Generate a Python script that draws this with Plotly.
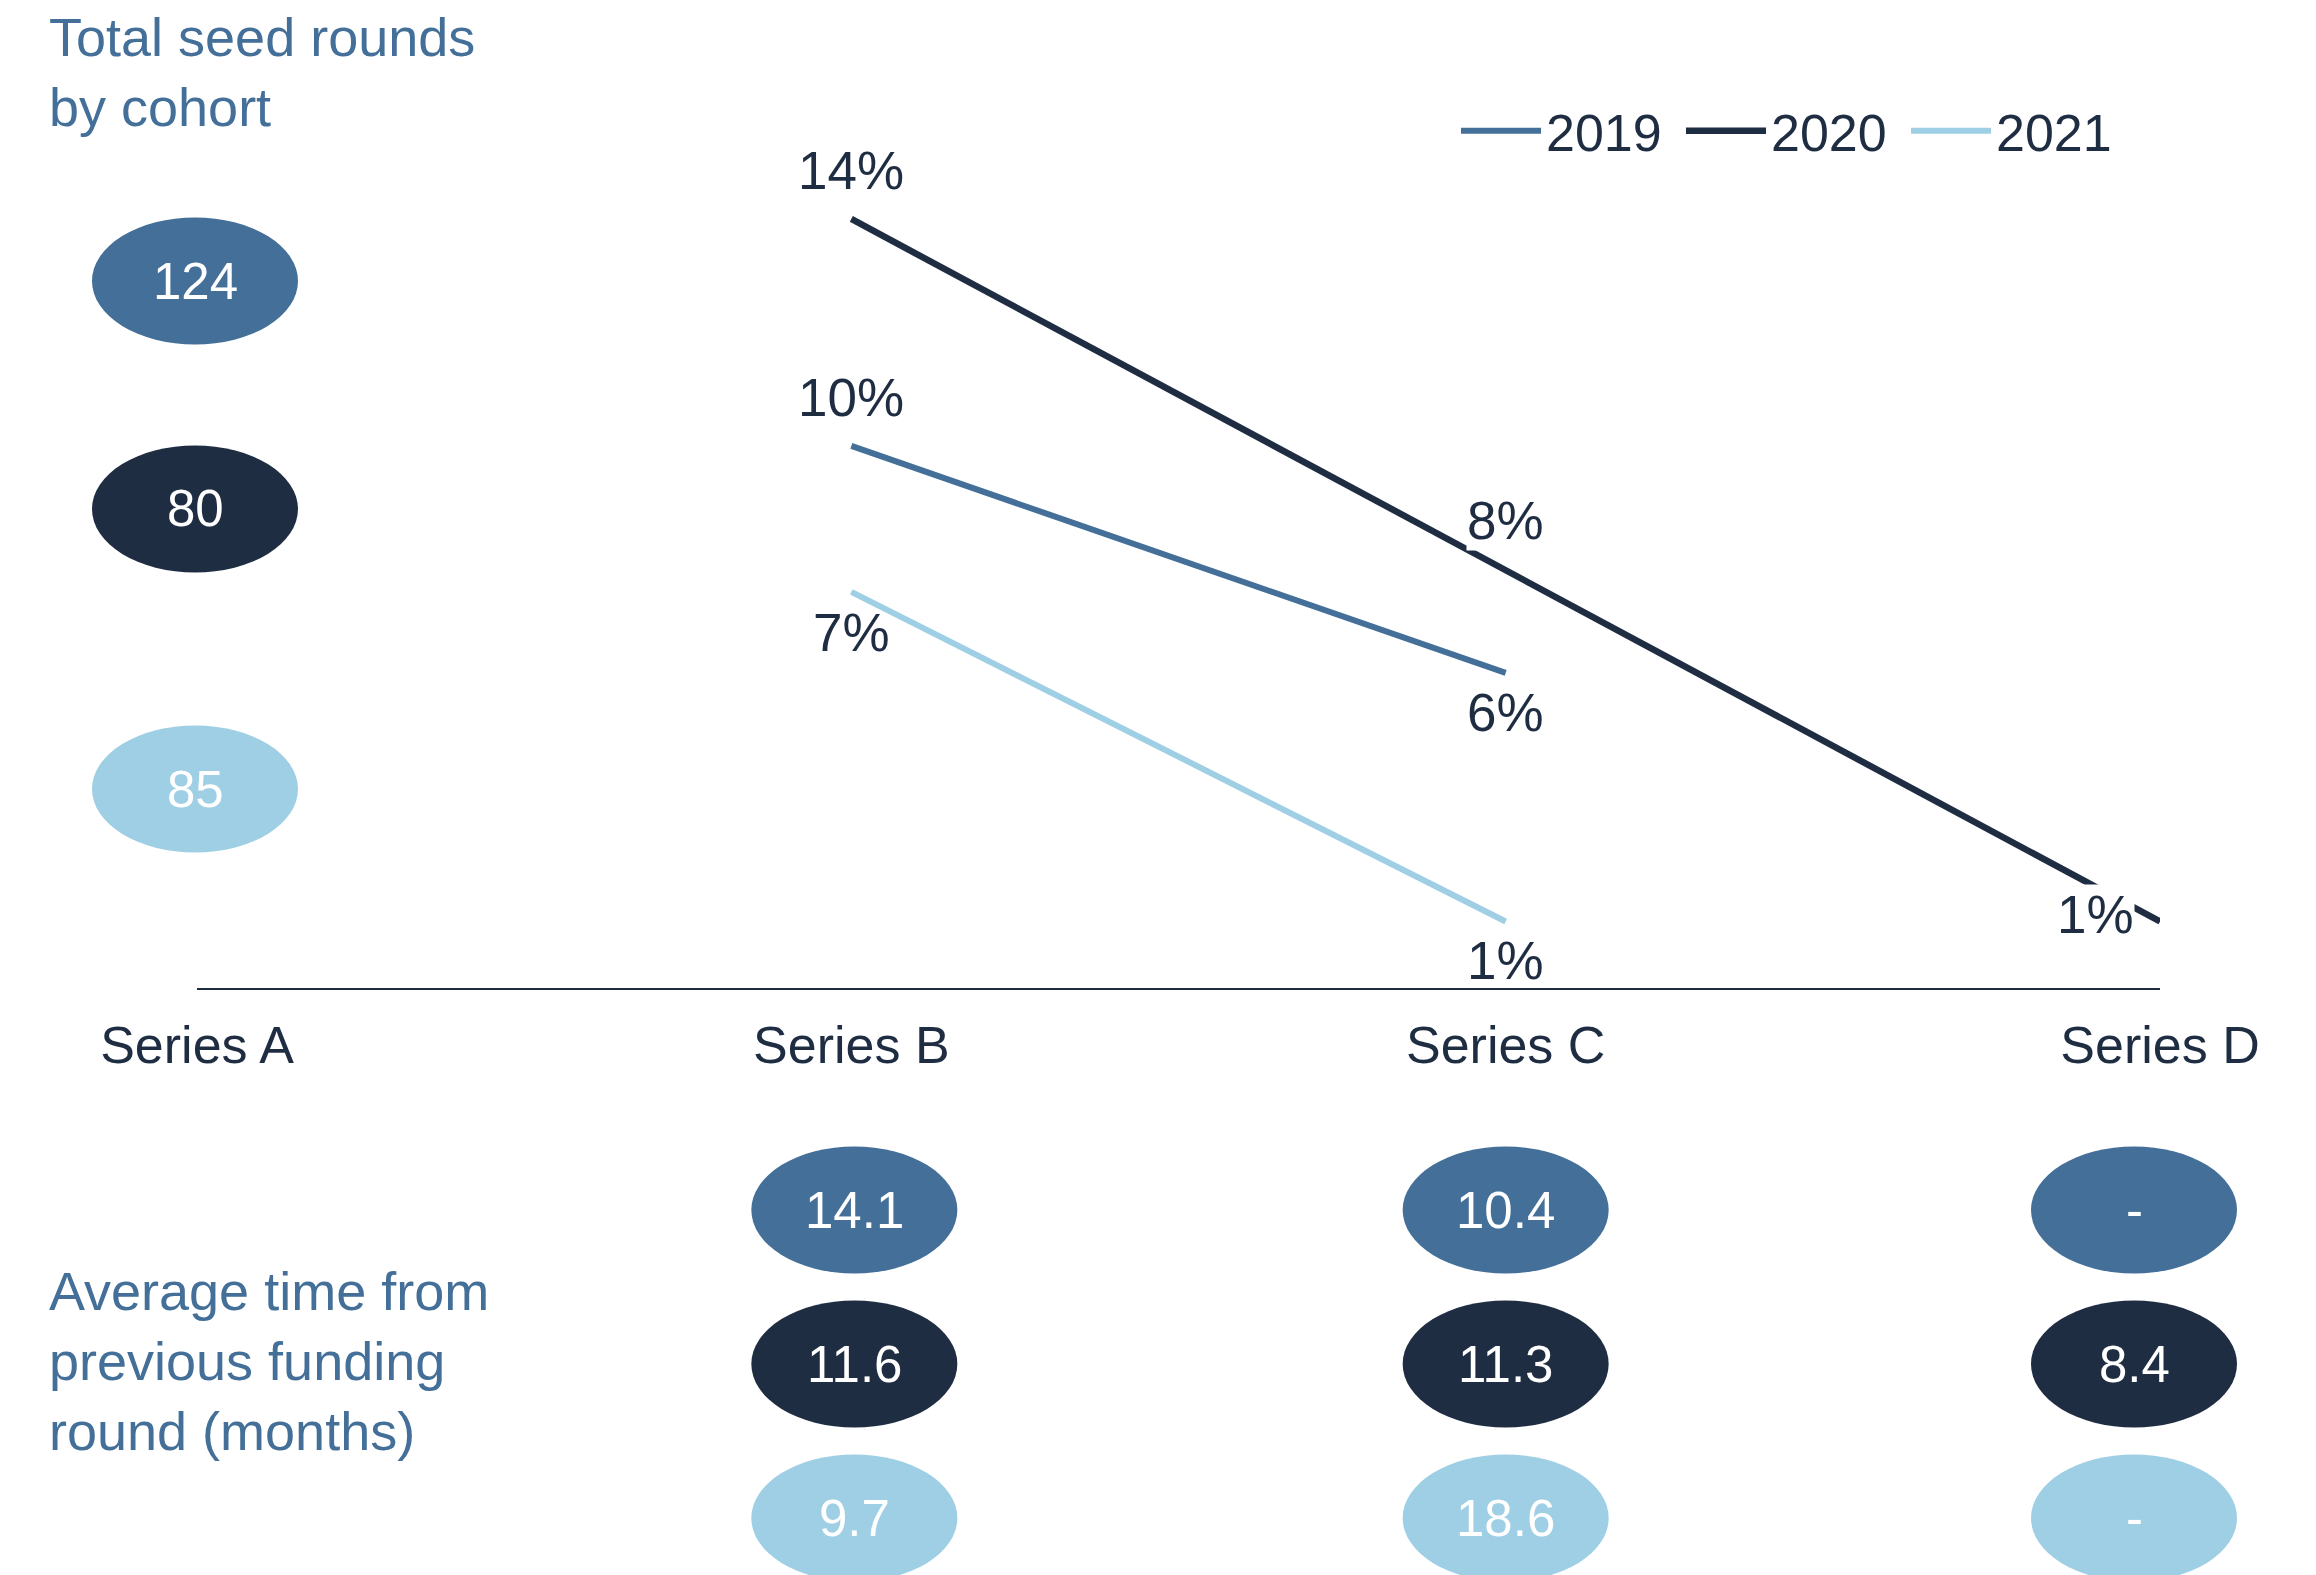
import plotly.graph_objects as go

# ---------------- data ----------------
categories = ["Series A", "Series B", "Series C", "Series D"]
cohorts = ["2019", "2020", "2021"]

share_2019 = [None, 9.8, 5.6, None]
share_2020 = [None, 14.0, 7.5, 1.0]
share_2021 = [None, 7.1, 1.0, None]

seed_rounds = [124, 80, 85]                 # 2019, 2020, 2021

month_columns = ["Series B", "Series C", "Series D"]
months_2019 = [14.1, 10.4, None]
months_2020 = [11.6, 11.3, 8.4]
months_2021 = [9.7, 18.6, None]

row_label_top = "Total seed rounds<br>by cohort"
row_label_bottom = "Average time from<br>previous funding<br>round (months)"

# ---------------- style ----------------
COLORS = {"2019": "#436F98", "2020": "#1F2D43", "2021": "#9FCFE4"}
TEXT_DARK = "#1F2D43"
FONT = "Liberation Sans, Arial, Helvetica, sans-serif"
W, H = 2316, 1575
L, R, T, B = 197, 2160, 150, 988


def px_x(px):
    return (px - L) / (R - L)


def px_y(py):
    return (B - py) / (B - T)


def cat_paper(cat):
    # paper position of a category on the x axis (range 0..len-1)
    return categories.index(cat) / (len(categories) - 1)


shares = {"2019": share_2019, "2020": share_2020, "2021": share_2021}
months = {"2019": months_2019, "2020": months_2020, "2021": months_2021}
widths = {"2019": 6, "2020": 6.5, "2021": 6}

fig = go.Figure()
for c in cohorts:
    fig.add_trace(go.Scatter(
        x=categories, y=shares[c], name=c, mode="lines",
        line=dict(color=COLORS[c], width=widths[c]), connectgaps=False,
        hoverinfo="skip",
    ))

annotations = []
shapes = []

# percentage labels (offsets in pixels)
label_offsets = {
    ("2019", 1): (0, 48), ("2019", 2): (0, -40),
    ("2020", 1): (0, 48), ("2020", 2): (0, 50), ("2020", 3): (-65, 7),
    ("2021", 1): (0, -41), ("2021", 2): (0, -39),
}
for c in cohorts:
    for i, v in enumerate(shares[c]):
        if v is None:
            continue
        dx, dy = label_offsets[(c, i)]
        annotations.append(dict(
            x=categories[i], y=v, xref="x", yref="y",
            xanchor="center", yanchor="middle",
            text=f"{v:.0f}%", showarrow=False,
            xshift=dx, yshift=dy,
            bgcolor="white" if c == "2020" else "rgba(0,0,0,0)", borderpad=0,
            font=dict(size=53, color=TEXT_DARK, family=FONT),
        ))

# ellipse helper
EW, EH = 206, 127


def ellipse(xcat, py, color, text, dx=0):
    xp = cat_paper(xcat)
    yp = px_y(py)
    shapes.append(dict(
        type="circle", xref="paper", yref="paper",
        xsizemode="pixel", ysizemode="pixel",
        xanchor=xp, yanchor=yp,
        x0=dx - EW / 2, x1=dx + EW / 2, y0=-EH / 2, y1=EH / 2,
        fillcolor=color, line=dict(width=0), layer="above",
    ))
    annotations.append(dict(
        x=xp, y=yp, xref="paper", yref="paper",
        xanchor="center", yanchor="middle", xshift=dx, yshift=0,
        text=text, showarrow=False,
        font=dict(size=51, color="white", family=FONT),
    ))


# top-left: seed rounds by cohort
top_rows_py = [281, 509, 789]
for c, n, py in zip(cohorts, seed_rounds, top_rows_py):
    ellipse(categories[0], py, COLORS[c], str(n), dx=-2)

# bottom: average months
bottom_rows_py = [1210, 1364, 1518]
col_dx = {"Series B": 3, "Series C": 0, "Series D": -26}
for c, py in zip(cohorts, bottom_rows_py):
    for col, v in zip(month_columns, months[c]):
        ellipse(col, py, COLORS[c], "-" if v is None else f"{v:.1f}", dx=col_dx[col])

# row titles
annotations.append(dict(
    x=px_x(47), y=px_y(72), xref="paper", yref="paper",
    xanchor="left", yanchor="middle", align="left", showarrow=False,
    text=row_label_top, font=dict(size=54, color=COLORS["2019"], family=FONT),
))
annotations.append(dict(
    x=px_x(47), y=px_y(1361), xref="paper", yref="paper",
    xanchor="left", yanchor="middle", align="left", showarrow=False,
    text=row_label_bottom, font=dict(size=54, color=COLORS["2019"], family=FONT),
))

fig.update_layout(
    width=W, height=H,
    margin=dict(l=L, r=W - R, t=T, b=H - B, pad=0),
    paper_bgcolor="white", plot_bgcolor="white",
    font=dict(family=FONT, color=TEXT_DARK),
    showlegend=True,
    legend=dict(
        orientation="h", x=px_x(1456), xanchor="left",
        y=px_y(131), yanchor="middle",
        font=dict(size=52, color=TEXT_DARK, family=FONT),
        itemwidth=80, entrywidth=130, entrywidthmode="pixels",
        bgcolor="rgba(0,0,0,0)", borderwidth=0,
        traceorder="normal",
    ),
    xaxis=dict(
        type="category", categoryorder="array", categoryarray=categories,
        range=[0, 3], showgrid=False, zeroline=False,
        showline=True, linecolor=TEXT_DARK, linewidth=2,
        ticks="outside", ticklen=11, tickcolor="rgba(0,0,0,0)",
        tickfont=dict(size=52, color=TEXT_DARK, family=FONT),
        fixedrange=True,
    ),
    yaxis=dict(
        visible=False, range=[-0.2306, 15.276], fixedrange=True,
        showgrid=False, zeroline=False,
    ),
    shapes=shapes,
    annotations=annotations,
)

fig.write_html(
    "out.html",
    config={"displayModeBar": False},
    post_script="document.body.style.margin='0';",
)
